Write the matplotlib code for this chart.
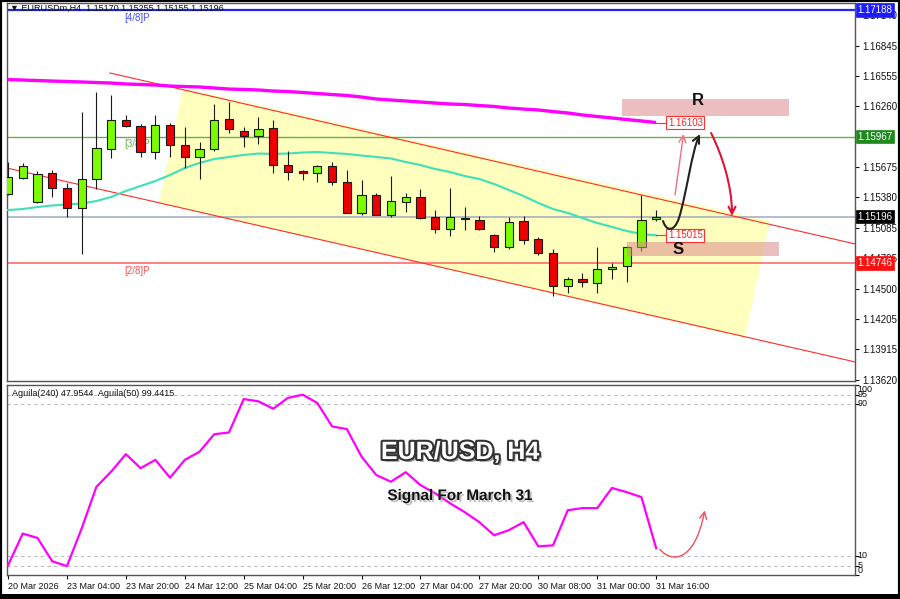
import matplotlib
matplotlib.use('Agg')
import matplotlib.pyplot as plt
from matplotlib.patches import Rectangle, Polygon, FancyArrowPatch
from matplotlib.path import Path
import matplotlib.patheffects as pe

plt.rcParams['font.family'] = ['Liberation Sans', 'DejaVu Sans']

# ---------------- data ----------------
opens = [1.15414, 1.15571, 1.15340, 1.15619, 1.15469, 1.15276, 1.15556, 1.15851, 1.16124, 1.16072,
         1.15822, 1.16082, 1.15886, 1.15768, 1.15848, 1.16134, 1.16024, 1.15973, 1.16053, 1.15691,
         1.15633, 1.15613, 1.15681, 1.15530, 1.15228, 1.15404, 1.15208, 1.15340, 1.15388, 1.15189,
         1.15073, 1.15187, 1.15166, 1.15015, 1.14905, 1.15150, 1.14977, 1.14842, 1.14527, 1.14591,
         1.14558, 1.14688, 1.14719, 1.14905, 1.15170]
highs = [1.15725, 1.15710, 1.15638, 1.15645, 1.15523, 1.16202, 1.16395, 1.16368, 1.16173, 1.16089,
         1.16173, 1.16096, 1.16063, 1.15918, 1.16279, 1.16304, 1.16063, 1.16159, 1.16127, 1.15831,
         1.15645, 1.15693, 1.15719, 1.15648, 1.15549, 1.15420, 1.15587, 1.15426, 1.15459, 1.15259,
         1.15472, 1.15286, 1.15202, 1.15028, 1.15195, 1.15202, 1.14996, 1.14880, 1.14610, 1.14649,
         1.14900, 1.14745, 1.14912, 1.15404, 1.15255]
lows = [1.15404, 1.15561, 1.15330, 1.15382, 1.15195, 1.14835, 1.15459, 1.15758, 1.16060, 1.15773,
        1.15748, 1.15773, 1.15662, 1.15561, 1.15828, 1.15999, 1.15870, 1.15896, 1.15619, 1.15549,
        1.15549, 1.15530, 1.15503, 1.15228, 1.15214, 1.15208, 1.15189, 1.15237, 1.15170, 1.15041,
        1.15012, 1.15062, 1.15067, 1.14857, 1.14880, 1.14932, 1.14825, 1.14430, 1.14462, 1.14514,
        1.14462, 1.14591, 1.14568, 1.14867, 1.15155]
closes = [1.15575, 1.15687, 1.15610, 1.15469, 1.15276, 1.15556, 1.15857, 1.16124, 1.16072, 1.15822,
          1.16082, 1.15886, 1.15773, 1.15848, 1.16124, 1.16038, 1.15973, 1.16044, 1.15693, 1.15629,
          1.15613, 1.15681, 1.15532, 1.15233, 1.15404, 1.15211, 1.15346, 1.15388, 1.15185, 1.15073,
          1.15189, 1.15170, 1.15079, 1.14905, 1.15147, 1.14970, 1.14848, 1.14527, 1.14591, 1.14565,
          1.14688, 1.14713, 1.14905, 1.15163, 1.15196]

ma240 = [1.16518, 1.16513, 1.16508, 1.16503, 1.16499, 1.16494, 1.16489, 1.16484, 1.16475, 1.16470,
         1.16465, 1.16455, 1.16450, 1.16446, 1.16436, 1.16426, 1.16422, 1.16417, 1.16407, 1.16402,
         1.16393, 1.16383, 1.16373, 1.16364, 1.16349, 1.16330, 1.16320, 1.16311, 1.16301, 1.16291,
         1.16282, 1.16277, 1.16267, 1.16258, 1.16243, 1.16233, 1.16224, 1.16209, 1.16195, 1.16176,
         1.16161, 1.16147, 1.16132, 1.16118, 1.16103]
ma50 = [1.15259, 1.15269, 1.15288, 1.15303, 1.15313, 1.15322, 1.15346, 1.15385, 1.15443, 1.15491,
        1.15539, 1.15597, 1.15665, 1.15713, 1.15751, 1.15771, 1.15790, 1.15804, 1.15800, 1.15804,
        1.15814, 1.15819, 1.15809, 1.15800, 1.15785, 1.15771, 1.15756, 1.15722, 1.15693, 1.15655,
        1.15626, 1.15587, 1.15558, 1.15510, 1.15452, 1.15394, 1.15327, 1.15269, 1.15231, 1.15182,
        1.15134, 1.15096, 1.15057, 1.15028, 1.15015]

aguila = [5.1, 21.8, 19.5, 7.2, 4.7, 24.5, 46.4, 54.4, 63.6, 56.2,
          60.6, 51.2, 60.6, 64.9, 74.1, 75.0, 92.6, 91.4, 87.5, 93.2,
          94.9, 90.5, 78.2, 76.8, 62.3, 52.6, 49.1, 54.1, 47.3, 43.0,
          37.8, 33.1, 27.8, 20.9, 23.6, 27.8, 15.1, 15.6, 34.1, 35.2,
          35.2, 45.8, 43.6, 41.0, 14.1]

xtick_labels = ["20 Mar 2026", "23 Mar 04:00", "23 Mar 20:00", "24 Mar 12:00", "25 Mar 04:00",
                "25 Mar 20:00", "26 Mar 12:00", "27 Mar 04:00", "27 Mar 20:00", "30 Mar 08:00",
                "31 Mar 00:00", "31 Mar 16:00"]
price_ticks = [1.17140, 1.16845, 1.16555, 1.16260, 1.15675, 1.15380, 1.15085, 1.14795,
               1.14500, 1.14205, 1.13915, 1.13620]
osc_ticks = [100, 95, 90, 10, 5, 0]

levels = [1.17188, 1.15967, 1.15196, 1.14746]
level_names = ["[4/8]P", "[3/8]P", "", "[2/8]P"]

# channel (index, price)
upper_line = [(6.92, 1.16581), (57.5, 1.14932)]
lower_line = [(-0.07, 1.15664), (57.5, 1.13794)]
channel_fill = [(11.88, 1.16436), (51.73, 1.15153), (50.03, 1.14025), (10.25, 1.15327)]
res_zone = (41.66, 53.02, 1.16169, 1.16327)
sup_zone = (42.02, 52.34, 1.14816, 1.14951)

# ---------------- figure ----------------
fig = plt.figure(figsize=(9, 5.99), dpi=100)
ax = fig.add_axes([7/900, 1-381/599, 848/900, 378/599])
ax2 = fig.add_axes([7/900, 1-575/599, 848/900, 190/599])

xmin, xmax = -0.07, 57.5
ax.set_xlim(xmin, xmax)
ax2.set_xlim(xmin, xmax)
ax.set_ylim(1.13610, 1.17256)
ax2.set_ylim(0, 100)

n = len(opens)
xs = list(range(n))

# channel fill and lines
ax.add_patch(Polygon(channel_fill, closed=True, fc='#FFFFBE', ec='none', zorder=1))
ax.plot([p[0] for p in upper_line], [p[1] for p in upper_line], color='#FF2A2A', lw=0.8, zorder=3)
ax.plot([p[0] for p in lower_line], [p[1] for p in lower_line], color='#FF2A2A', lw=0.8, zorder=3)

# horizontal levels
level_colors = ['#2222EE', '#6AAE50', '#A8B0C4', '#FF6A6A']
level_widths = [1.6, 1.0, 1.2, 1.2]
for lv, c, w in zip(levels, level_colors, level_widths):
    ax.axhline(lv, color=c, lw=w, zorder=2)
name_colors = ['#4A4AFF', '#6AAE50', '', '#FF5050']
for lv, nm, c in zip(levels, level_names, name_colors):
    if nm:
        ax.annotate(nm, xy=(7.9, lv), xytext=(0, -2), textcoords='offset points',
                    ha='left', va='top', fontsize=7, color=c, zorder=2)

# zones
ax.add_patch(Rectangle((res_zone[0], res_zone[2]), res_zone[1]-res_zone[0], res_zone[3]-res_zone[2],
                       fc='#DC8C8C', alpha=0.55, ec='none', zorder=2))
ax.add_patch(Rectangle((sup_zone[0], sup_zone[2]), sup_zone[1]-sup_zone[0], sup_zone[3]-sup_zone[2],
                       fc='#DC8C8C', alpha=0.55, ec='none', zorder=6))

# moving averages
ax.plot(xs, ma240, color='#FF00FF', lw=2.4, zorder=3, solid_capstyle='butt')
ax.plot(xs, ma50, color='#3EE0B8', lw=1.5, zorder=3)

# candles
bw = 0.56
for i in xs:
    o, h, l, c = opens[i], highs[i], lows[i], closes[i]
    ax.vlines(i, l, h, color='#1A1A1A', lw=0.8, zorder=4)
    fc = '#7CFC00' if c >= o else '#EE0000'
    ax.add_patch(Rectangle((i - bw/2, min(o, c)), bw, max(abs(c - o), 0.00002),
                           fc=fc, ec='#1A1A1A', lw=0.8, zorder=5))

# value boxes at line ends
for val in (ma240[-1], ma50[-1]):
    ax.plot([xs[-1], 44.75], [val, val], color='#FF3030', lw=0.8, zorder=6)
    ax.text(44.8, val, f"{val:.5f}", fontsize=7, color='#FF2020', ha='left', va='center', zorder=7,
            bbox=dict(boxstyle='square,pad=0.15', fc='white', ec='#FF3030', lw=0.8))

ax.text(46.84, 1.16320, "R", fontsize=12, fontweight='bold', ha='center', va='center', color='#111111', zorder=7)
ax.text(45.49, 1.14883, "S", fontsize=12, fontweight='bold', ha='center', va='center', color='#111111', zorder=7)

# arrows
ax.add_patch(FancyArrowPatch((45.28, 1.15404), (45.86, 1.15992), arrowstyle='->,head_length=5,head_width=2.5',
                             color='#F07080', lw=1.0, zorder=7, shrinkA=0, shrinkB=0))
black_path = Path([(44.47, 1.15153), (44.67, 1.15057), (45.21, 1.15038), (45.55, 1.15182),
                   (46.03, 1.15394), (46.44, 1.15838), (46.98, 1.15992)],
                  [Path.MOVETO, Path.CURVE4, Path.CURVE4, Path.CURVE4, Path.CURVE4, Path.CURVE4, Path.CURVE4])
ax.add_patch(FancyArrowPatch(path=black_path, arrowstyle='->,head_length=5,head_width=2.5',
                             color='#222222', lw=1.5, zorder=7))
red_path = Path([(47.73, 1.16002), (48.47, 1.15790), (49.15, 1.15501), (49.15, 1.15202)],
                [Path.MOVETO, Path.CURVE4, Path.CURVE4, Path.CURVE4])
ax.add_patch(FancyArrowPatch(path=red_path, arrowstyle='->,head_length=5,head_width=2.5',
                             color='#DC143C', lw=1.5, zorder=7))

# right price axis
ax.yaxis.tick_right()
ax.set_yticks(price_ticks)
ax.set_yticklabels([f"{v:.5f}" for v in price_ticks])
ax.tick_params(axis='y', labelsize=7, length=3, pad=2, width=0.8, colors='#111111')
ax.tick_params(axis='x', bottom=False, labelbottom=False)

tag_colors = ['#1C1CFF', '#1E8A1E', '#000000', '#FF1010']
for lv, c in zip(levels, tag_colors):
    ax.annotate(f"{lv:.5f}", xy=(1.003, lv), xycoords=('axes fraction', 'data'), ha='left', va='center',
                fontsize=7, color='white', annotation_clip=False, zorder=10,
                bbox=dict(boxstyle='square,pad=0.18', fc=c, ec=c, lw=0.5))

# ---------------- oscillator ----------------
for lv in (95, 90, 10, 5):
    ax2.axhline(lv, color='#BBBBBB', lw=0.8, ls=(0, (3, 3)), zorder=1)
ax2.plot(xs, aguila, color='#FF00FF', lw=1.6, zorder=3)

osc_path = Path([(44.26, 13.5), (45.0, 6.5), (46.6, 6.0), (47.3, 34.0)],
                [Path.MOVETO, Path.CURVE4, Path.CURVE4, Path.CURVE4])
ax2.add_patch(FancyArrowPatch(path=osc_path, arrowstyle='->,head_length=5,head_width=2.5',
                              color='#F05060', lw=1.0, zorder=4))

ax2.yaxis.tick_right()
ax2.set_yticks(osc_ticks)
ax2.set_yticklabels([])
ax2.tick_params(axis='y', length=3, width=0.8)
for v in osc_ticks:
    va = 'top' if v == 100 else ('bottom' if v == 0 else 'center')
    ax2.annotate(str(v), xy=(1.003, v), xycoords=('axes fraction', 'data'), ha='left', va=va,
                 fontsize=6.5, color='#111111', annotation_clip=False)

ax2.set_xticks(list(range(0, n, 4)))
ax2.set_xticklabels(xtick_labels, ha='left', fontsize=6.5)
ax2.tick_params(axis='x', length=3, width=0.8, pad=2, colors='#111111')

for a in (ax, ax2):
    for s in a.spines.values():
        s.set_color('#555555')
        s.set_linewidth(1.0)

# titles
fig.text(460/900, 1-452/599, "EUR/USD, H4", fontsize=18, fontweight='bold', color='white',
         ha='center', va='center',
         path_effects=[pe.SimplePatchShadow(offset=(2, -2), shadow_rgbFace='#777777', alpha=0.7),
                       pe.Stroke(linewidth=3, foreground='#333333'), pe.Normal()])
fig.text(460/900, 1-496/599, "Signal For March 31", fontsize=11, fontweight='bold', color='#111111',
         ha='center', va='center',
         path_effects=[pe.SimplePatchShadow(offset=(1.5, -1.5), shadow_rgbFace='#999999', alpha=0.6), pe.Normal()])

fig.text(10/900, 1-8/599, "\u25bc EURUSDm,H4  1.15170 1.15255 1.15155 1.15196", fontsize=6.5,
         color='#111111', ha='left', va='center')
fig.text(12/900, 1-393/599, "Aguila(240) 47.9544  Aguila(50) 99.4415", fontsize=6.5,
         color='#111111', ha='left', va='center')

# figure frame
fig.patches.append(Rectangle((0, 0), 1, 1, transform=fig.transFigure, fill=False, ec='black', lw=3))
fig.patches.append(Rectangle((0, 0), 1, 5/599, transform=fig.transFigure, fc='black', ec='none'))

fig.savefig('out.png', dpi=100)
